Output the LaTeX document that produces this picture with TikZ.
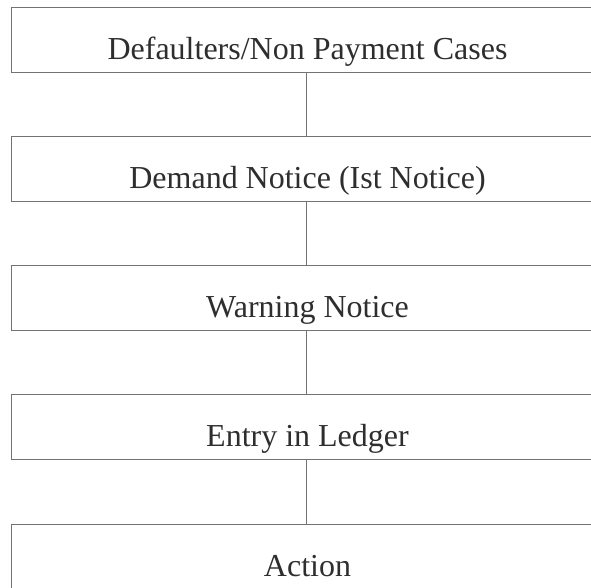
\documentclass[tikz,border=0pt]{standalone}
\usepackage{fontspec}
\setmainfont{Liberation Serif}
\begin{document}
\begin{tikzpicture}[x=1pt,y=-1pt,
  stagebox/.style={draw=black!55, line width=1pt, rectangle, inner sep=0pt,
    minimum width=590pt, text height=52pt, text depth=13pt,
    text=black!82, font=\fontsize{32}{36}\selectfont},
  link/.style={draw=black!55, line width=1pt}]
  \useasboundingbox (0,0) rectangle (591,587);
  \clip (0,0) rectangle (591,587);
  \node[stagebox] (s1) at (306,40)    {\hspace{3pt}Defaulters/Non Payment Cases};
  \node[stagebox] (s2) at (306,169)   {\hspace{3pt}Demand Notice (Ist Notice)};
  \node[stagebox] (s3) at (306,298)   {\hspace{3pt}Warning Notice};
  \node[stagebox] (s4) at (306,426.5) {\hspace{3pt}Entry in Ledger};
  \node[stagebox] (s5) at (306,556.5) {\hspace{3pt}Action};
  \draw[link] (s1) -- (s2);
  \draw[link] (s2) -- (s3);
  \draw[link] (s3) -- (s4);
  \draw[link] (s4) -- (s5);
\end{tikzpicture}
\end{document}
